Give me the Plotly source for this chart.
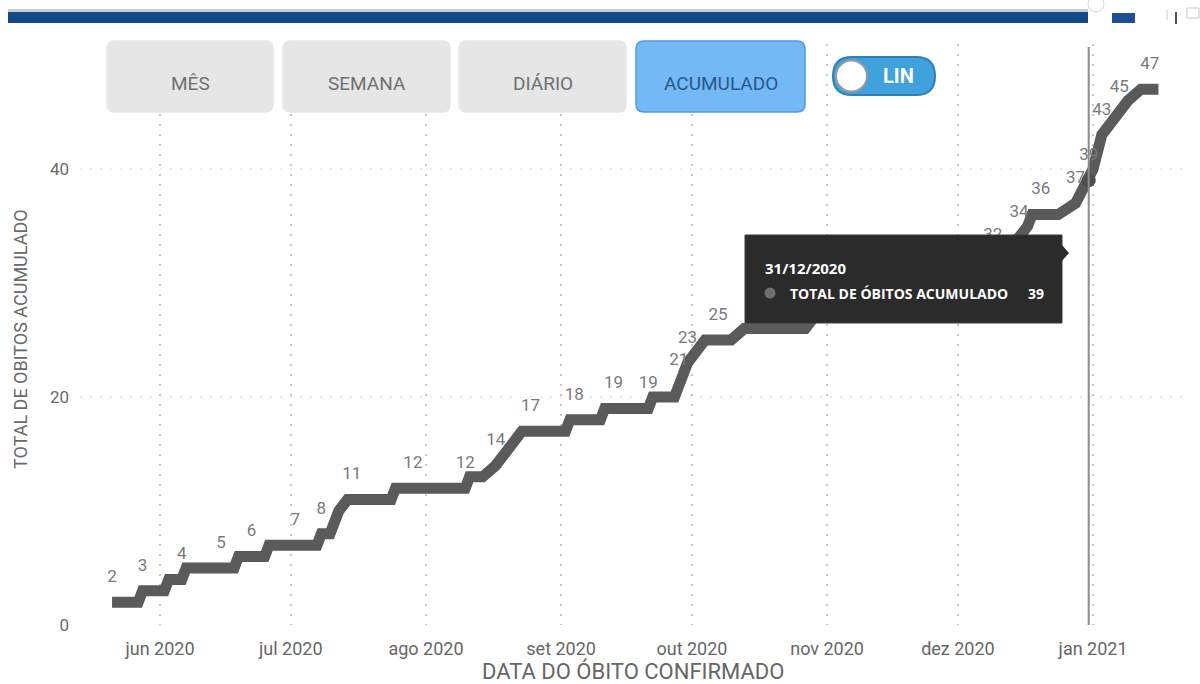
import pandas as pd
import plotly.graph_objects as go

# Cumulative confirmed deaths by date of death
dates = [
    "2020-05-21", "2020-05-27", "2020-05-28", "2020-06-02", "2020-06-03",
    "2020-06-06", "2020-06-07", "2020-06-15", "2020-06-18", "2020-06-19",
    "2020-06-22", "2020-06-25", "2020-06-26", "2020-07-02", "2020-07-07",
    "2020-07-08", "2020-07-10", "2020-07-11", "2020-07-12", "2020-07-14",
    "2020-07-15", "2020-07-24", "2020-07-25", "2020-07-29", "2020-08-10",
    "2020-08-11", "2020-08-14", "2020-08-17", "2020-08-19", "2020-08-21",
    "2020-08-23", "2020-08-25", "2020-09-02", "2020-09-03", "2020-09-04",
    "2020-09-10", "2020-09-11", "2020-09-13", "2020-09-21", "2020-09-22",
    "2020-09-27", "2020-09-28", "2020-09-30", "2020-10-02", "2020-10-04",
    "2020-10-07", "2020-10-10", "2020-10-13", "2020-10-27", "2020-10-29",
    "2020-11-08", "2020-11-17", "2020-11-25", "2020-12-02", "2020-12-09",
    "2020-12-12", "2020-12-15", "2020-12-17", "2020-12-18", "2020-12-20",
    "2020-12-24", "2020-12-28", "2020-12-31", "2021-01-01", "2021-01-03",
    "2021-01-05", "2021-01-07", "2021-01-09", "2021-01-12", "2021-01-14",
    "2021-01-16",
]
total_obitos = [
    2, 2, 3, 3, 4,
    4, 5, 5, 5, 6,
    6, 6, 7, 7, 7,
    8, 8, 9, 10, 11,
    11, 11, 12, 12, 12,
    13, 13, 14, 15, 16,
    17, 17, 17, 18, 18,
    18, 19, 19, 19, 20,
    20, 21, 23, 24, 25,
    25, 25, 26, 26, 27,
    28, 29, 30, 31, 32,
    33, 34, 35, 36, 36,
    36, 37, 39, 40, 43,
    44, 45, 46, 47, 47,
    47,
]

# Dates that carry a data label
label_dates = [
    "2020-05-21", "2020-05-28", "2020-06-06", "2020-06-15", "2020-06-22",
    "2020-07-02", "2020-07-08", "2020-07-15", "2020-07-29", "2020-08-10",
    "2020-08-17", "2020-08-25", "2020-09-04", "2020-09-13", "2020-09-21",
    "2020-09-28", "2020-09-30", "2020-10-07", "2020-12-09", "2020-12-15",
    "2020-12-20", "2020-12-28", "2020-12-31", "2021-01-03", "2021-01-07",
    "2021-01-14",
]

tick_dates = ["2020-06-01", "2020-07-01", "2020-08-01", "2020-09-01",
              "2020-10-01", "2020-11-01", "2020-12-01", "2021-01-01"]
tick_labels = ["jun 2020", "jul 2020", "ago 2020", "set 2020",
               "out 2020", "nov 2020", "dez 2020", "jan 2021"]

y_ticks = [0, 20, 40]

buttons = ["MÊS", "SEMANA", "DIÁRIO", "ACUMULADO"]
active_button = "ACUMULADO"
hover_date = "2020-12-31"
measure_name = "TOTAL DE ÓBITOS ACUMULADO"

value_by_date = dict(zip(dates, total_obitos))
label_values = [value_by_date[d] for d in label_dates]
hover_value = value_by_date[hover_date]

# Page geometry (pixels) and helpers to place decorations in paper units
W, H = 1200, 684
ML, MR, MT, MB = 80, 15, 44, 59
PW = W - ML - MR
PH = H - MT - MB


def px(x):
    return (x - ML) / PW


def py(y):
    return (H - MB - y) / PH


def rounded_path(x0, y0, x1, y1, r):
    pts = [
        ("M", [(x0 + r, y0)]), ("L", [(x1 - r, y0)]),
        ("Q", [(x1, y0), (x1, y0 + r)]), ("L", [(x1, y1 - r)]),
        ("Q", [(x1, y1), (x1 - r, y1)]), ("L", [(x0 + r, y1)]),
        ("Q", [(x0, y1), (x0, y1 - r)]), ("L", [(x0, y0 + r)]),
        ("Q", [(x0, y0), (x0 + r, y0)]),
    ]
    out = []
    for cmd, coords in pts:
        out.append(cmd + " " + " ".join(f"{px(a):.5f},{py(b):.5f}" for a, b in coords))
    return " ".join(out) + " Z"


FONT = "Roboto"
fig = go.Figure()

fig.add_trace(go.Scatter(
    x=dates, y=total_obitos, mode="lines",
    line=dict(color="#5a5a5a", width=11),
    hoverinfo="skip", showlegend=False,
))

fig.add_trace(go.Scatter(
    x=label_dates, y=label_values, mode="markers+text",
    text=[str(v) for v in label_values], textposition="top center",
    marker=dict(size=24, color="rgba(0,0,0,0)"),
    textfont=dict(family=FONT, size=17, color="#7a7a7a"),
    hoverinfo="skip", showlegend=False, cliponaxis=False,
))

fig.add_trace(go.Scatter(
    x=[hover_date], y=[hover_value], mode="markers",
    marker=dict(size=14, color="#4e4e4e"),
    hoverinfo="skip", showlegend=False,
))

shapes = []
annotations = []

# Hover guide line
shapes.append(dict(type="line", xref="x", yref="paper", x0=hover_date, x1=hover_date,
                   y0=py(625), y1=py(47), line=dict(color="#8c8c8c", width=2), layer="above"))

# Header bar
shapes.append(dict(type="rect", xref="paper", yref="paper", x0=px(8), x1=px(1088),
                   y0=py(23), y1=py(12), fillcolor="#134a85", line=dict(width=0), layer="above"))
shapes.append(dict(type="rect", xref="paper", yref="paper", x0=px(8), x1=px(1088),
                   y0=py(12), y1=py(9), fillcolor="#c3ccd8", line=dict(width=0), layer="above"))
shapes.append(dict(type="rect", xref="paper", yref="paper", x0=px(1112), x1=px(1135),
                   y0=py(23), y1=py(13), fillcolor="#1c4f93", line=dict(width=0), layer="above"))
shapes.append(dict(type="circle", xref="paper", yref="paper", x0=px(1088), x1=px(1104),
                   y0=py(12), y1=py(-4), line=dict(color="#d8d8d8", width=1), layer="above"))
shapes.append(dict(type="line", xref="paper", yref="paper", x0=px(1167), x1=px(1167),
                   y0=py(20), y1=py(10), line=dict(color="#c8c8c8", width=1), layer="above"))
shapes.append(dict(type="line", xref="paper", yref="paper", x0=px(1176), x1=px(1176),
                   y0=py(24), y1=py(12), line=dict(color="#505050", width=2), layer="above"))
shapes.append(dict(type="rect", xref="paper", yref="paper", x0=px(1187), x1=px(1199),
                   y0=py(18), y1=py(8), line=dict(color="#c8c8c8", width=1), layer="above"))

# View buttons
btn_x = [(107, 273), (283, 450), (459, 626), (636, 805)]
for label, (bx0, bx1) in zip(buttons, btn_x):
    active = label == active_button
    shapes.append(dict(type="path", xref="paper", yref="paper",
                       path=rounded_path(bx0, 41, bx1, 112, 8),
                       fillcolor="#74b8f6" if active else "#e6e6e6",
                       line=dict(color="#4d9be3" if active else "#e6e6e6", width=1.5),
                       layer="above"))
    annotations.append(dict(xref="paper", yref="paper", x=px((bx0 + bx1) / 2), y=py(84),
                            text=label, showarrow=False, xanchor="center", yanchor="middle",
                            font=dict(family=FONT, size=19,
                                      color="#27598c" if active else "#707070")))

# LIN / LOG switch
shapes.append(dict(type="path", xref="paper", yref="paper",
                   path=rounded_path(833, 57, 935, 95, 19),
                   fillcolor="#3fa2dc", line=dict(color="#2f80b6", width=2), layer="above"))
shapes.append(dict(type="circle", xref="paper", yref="paper", x0=px(836), x1=px(867),
                   y0=py(91.5), y1=py(60.5), fillcolor="#ffffff",
                   line=dict(color="#9a9a9a", width=2), layer="above"))
annotations.append(dict(xref="paper", yref="paper", x=px(898), y=py(76), text="<b>LIN</b>",
                        showarrow=False, xanchor="center", yanchor="middle",
                        font=dict(family=FONT, size=20, color="#ffffff")))

# Tooltip
shapes.append(dict(type="rect", xref="paper", yref="paper", x0=px(745), x1=px(1062),
                   y0=py(323), y1=py(235), fillcolor="#2b2b2b",
                   line=dict(color="#3a3a3a", width=1), layer="above"))
shapes.append(dict(type="path", xref="paper", yref="paper",
                   path=f"M {px(1061):.5f},{py(244):.5f} L {px(1069):.5f},{py(253):.5f} "
                        f"L {px(1061):.5f},{py(262):.5f} Z",
                   fillcolor="#2b2b2b", line=dict(width=0), layer="above"))
shapes.append(dict(type="circle", xref="paper", yref="paper", x0=px(764.5), x1=px(775.5),
                   y0=py(298.5), y1=py(287.5), fillcolor="#6e6e6e", line=dict(width=0),
                   layer="above"))
hover_ts = pd.Timestamp(hover_date)
annotations.append(dict(xref="paper", yref="paper", x=px(763), y=py(268),
                        text=f"<b>{hover_ts:%d/%m/%Y}</b>", showarrow=False,
                        xanchor="left", yanchor="middle",
                        font=dict(family="Open Sans", size=15, color="#ffffff")))
annotations.append(dict(xref="paper", yref="paper", x=px(788), y=py(293),
                        text=f"<b>{measure_name}</b>", showarrow=False,
                        xanchor="left", yanchor="middle",
                        font=dict(family="Open Sans", size=14, color="#ffffff")))
annotations.append(dict(xref="paper", yref="paper", x=px(1026), y=py(293),
                        text=f"<b>{hover_value}</b>", showarrow=False,
                        xanchor="left", yanchor="middle",
                        font=dict(family="Open Sans", size=14, color="#ffffff")))

# Axis titles
annotations.append(dict(xref="paper", yref="paper", x=px(633), y=py(671),
                        text="DATA DO ÓBITO CONFIRMADO", showarrow=False,
                        xanchor="center", yanchor="middle",
                        font=dict(family=FONT, size=22, color="#666666")))
annotations.append(dict(xref="paper", yref="paper", x=px(21), y=py(339),
                        text="TOTAL DE OBITOS ACUMULADO", showarrow=False, textangle=-90,
                        xanchor="center", yanchor="middle",
                        font=dict(family=FONT, size=18, color="#6a6a6a")))

fig.update_layout(
    width=W, height=H,
    margin=dict(l=ML, r=MR, t=MT, b=MB),
    paper_bgcolor="#ffffff", plot_bgcolor="#ffffff",
    shapes=shapes, annotations=annotations,
    font=dict(family=FONT, color="#666666"),
)

fig.update_xaxes(
    type="date",
    range=["2020-05-13 15:36", "2021-01-22 02:00"],
    tickvals=tick_dates, ticktext=tick_labels,
    tickfont=dict(family=FONT, size=18, color="#666666"),
    showgrid=True, gridcolor="#c6c6c6", gridwidth=2, griddash="2px,8px",
    zeroline=False, showline=False, ticks="", ticklabelstandoff=11,
)
fig.update_yaxes(
    range=[0, (H - MB - MT) / 11.4],
    tickvals=y_ticks,
    tickfont=dict(family=FONT, size=17, color="#6a6a6a"),
    showgrid=True, gridcolor="#ececec", gridwidth=2, griddash="2px,8px",
    zeroline=False, showline=False, ticks="", ticklabelstandoff=10,
)

fig.write_html("out.html")
